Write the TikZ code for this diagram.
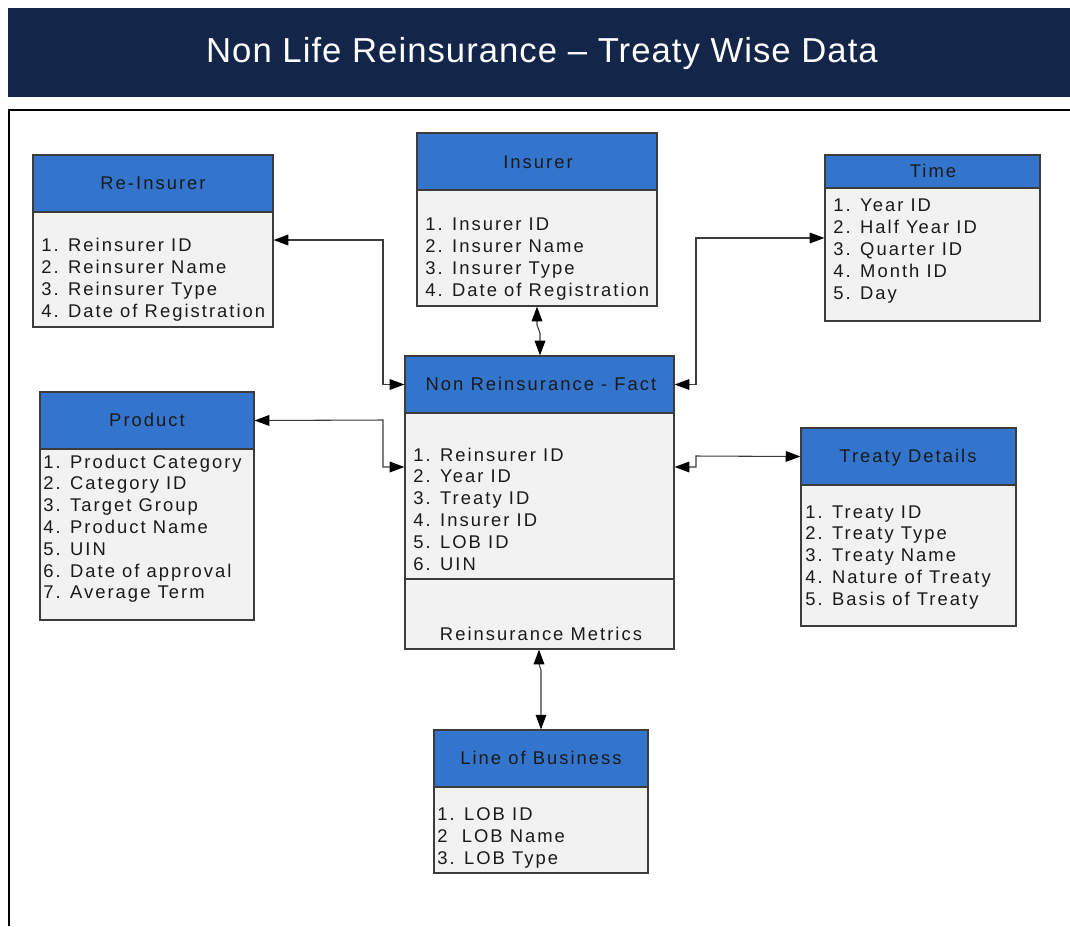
\documentclass[tikz,border=0pt]{standalone}
\usepackage{fontspec}
\setmainfont{Liberation Sans}
\newfontfamily\boxfont{Liberation Sans}[LetterSpace=11]
\newfontfamily\headfont{Liberation Sans}[LetterSpace=3]
\usetikzlibrary{arrows.meta}

\definecolor{navy}{HTML}{13264A}
\definecolor{hdrblue}{HTML}{3375CC}
\definecolor{bodygrey}{HTML}{F2F2F2}
\definecolor{edge}{HTML}{3C3C3C}
\definecolor{ink}{HTML}{1A1A1A}

% one rectangular part of an entity box, given by its corners in px
\newcommand\entpart[6]{%
  \node[#2, minimum width={(#5-#3)*0.75pt}, minimum height={(#6-#4)*0.75pt}]
    (#1) at ({(#3+#5)/2},{(#4+#6)/2}) {};}
% list of attributes: prefix, left x, first baseline, line step, items
\newcommand\attrlist[5]{%
  \foreach \t [count=\i] in {#5}
    \node[item] (#1-\i) at (#2,{#3+(\i-1)*#4}) {\t};}

\begin{document}
\begin{tikzpicture}[x=0.75pt,y=-0.75pt,
  hdr/.style={draw=edge, line width=0.9pt, fill=hdrblue, inner sep=0pt},
  bdy/.style={draw=edge, line width=0.9pt, fill=bodygrey, inner sep=0pt},
  item/.style={anchor=base west, inner sep=0pt, text=ink,
    font=\boxfont\fontsize{13.8}{16}\selectfont},
  ttl/.style={anchor=base, inner sep=0pt, text=ink,
    font=\boxfont\fontsize{13.8}{16}\selectfont},
  conn/.style={draw=edge, line width=0.8pt,
    {Triangle[length=11pt,width=8pt,color=black]}-{Triangle[length=11pt,width=8pt,color=black]}}]
\useasboundingbox (0,0) rectangle (1070,926);

% title banner
\fill[navy] (8,8) rectangle (1070,97);
\node[anchor=base, inner sep=0pt, text=white,
  font=\headfont\fontsize{26}{30}\selectfont] (banner) at (542,62)
  {Non Life Reinsurance – Treaty Wise Data};

% content frame
\draw[line width=1.9pt] (9,926) -- (9,110) -- (1070,110);

% Re-Insurer
\entpart{rih}{hdr}{33}{155}{273}{212}
\entpart{rib}{bdy}{33}{212}{273}{327}
\node[ttl] (rit) at (153,189) {Re-Insurer};
\attrlist{ri}{41}{251}{22}{1. Reinsurer ID,2. Reinsurer Name,3. Reinsurer Type,4. Date of Registration}

% Insurer
\entpart{insh}{hdr}{417}{133}{657}{190}
\entpart{insb}{bdy}{417}{190}{657}{306}
\node[ttl] (inst) at (538,168) {Insurer};
\attrlist{ins}{425}{230}{22}{1. Insurer ID,2. Insurer Name,3. Insurer Type,4. Date of Registration}

% Time
\entpart{timh}{hdr}{825}{155}{1040}{188}
\entpart{timb}{bdy}{825}{188}{1040}{321}
\node[ttl] (timt) at (933,177) {Time};
\attrlist{tim}{833}{211}{22}{1. Year ID,2. Half Year ID,3. Quarter ID,4. Month ID,5. Day}

% fact table
\entpart{fach}{hdr}{405}{356}{674}{413}
\entpart{facb}{bdy}{405}{413}{674}{579}
\entpart{facm}{bdy}{405}{579}{674}{649}
\node[ttl] (fact) at (541,390) {Non Reinsurance - Fact};
\attrlist{fac}{413}{461}{21.8}{1. Reinsurer ID,2. Year ID,3. Treaty ID,4. Insurer ID,5. LOB ID,6. UIN}
\node[ttl] (metr) at (541,640) {Reinsurance Metrics};

% Product
\entpart{proh}{hdr}{40}{392}{254}{449}
\entpart{prob}{bdy}{40}{449}{254}{620}
\node[ttl] (prot) at (147,426) {Product};
\attrlist{pro}{43}{468}{21.8}{1. Product Category,2. Category ID,3. Target Group,4. Product Name,5. UIN,6. Date of approval,7. Average Term}

% Treaty Details
\entpart{treh}{hdr}{801}{428}{1016}{485}
\entpart{treb}{bdy}{801}{485}{1016}{626}
\node[ttl] (tret) at (908,462) {Treaty Details};
\attrlist{tre}{805}{518}{21.75}{1. Treaty ID,2. Treaty Type,3. Treaty Name,4. Nature of Treaty,5. Basis of Treaty}

% Line of Business
\entpart{lobh}{hdr}{434}{730}{648}{787}
\entpart{lobb}{bdy}{434}{787}{648}{873}
\node[ttl] (lobt) at (541,764) {Line of Business};
\attrlist{lob}{437}{820}{22}{1. LOB ID,{2\ \ LOB Name},3. LOB Type}

% bend points of the links
\coordinate (kri) at (383,240);
\coordinate (kpr) at (383,420);
\coordinate (kfp) at (383,467);
\coordinate (ktm) at (696,238);
\coordinate (kft) at (696,467);
\coordinate (ktr) at (696,456);
\coordinate (ki1) at (537,325);
\coordinate (ki2) at (540,333);
\coordinate (kl1) at (539,664);
\coordinate (kl2) at (541,670);

% links
\draw[conn] (rib.east |- kri) -- (kri) |- (fach.west);
\draw[conn] (proh.east) -- (kpr) -- (kfp) -- (facb.west |- kfp);
\draw[conn] (timb.west |- ktm) -- (ktm) |- (fach.east);
\draw[conn] (facb.east |- kft) -- (kft) -- (ktr) -- (treh.west);
\draw[conn] (insb.south -| ki1) -- (ki1) -- (ki2) -- (fach.north -| ki2);
\draw[conn] (facm.south -| kl1) -- (kl1) -- (kl2) -- (lobh.north -| kl2);
\end{tikzpicture}
\end{document}
